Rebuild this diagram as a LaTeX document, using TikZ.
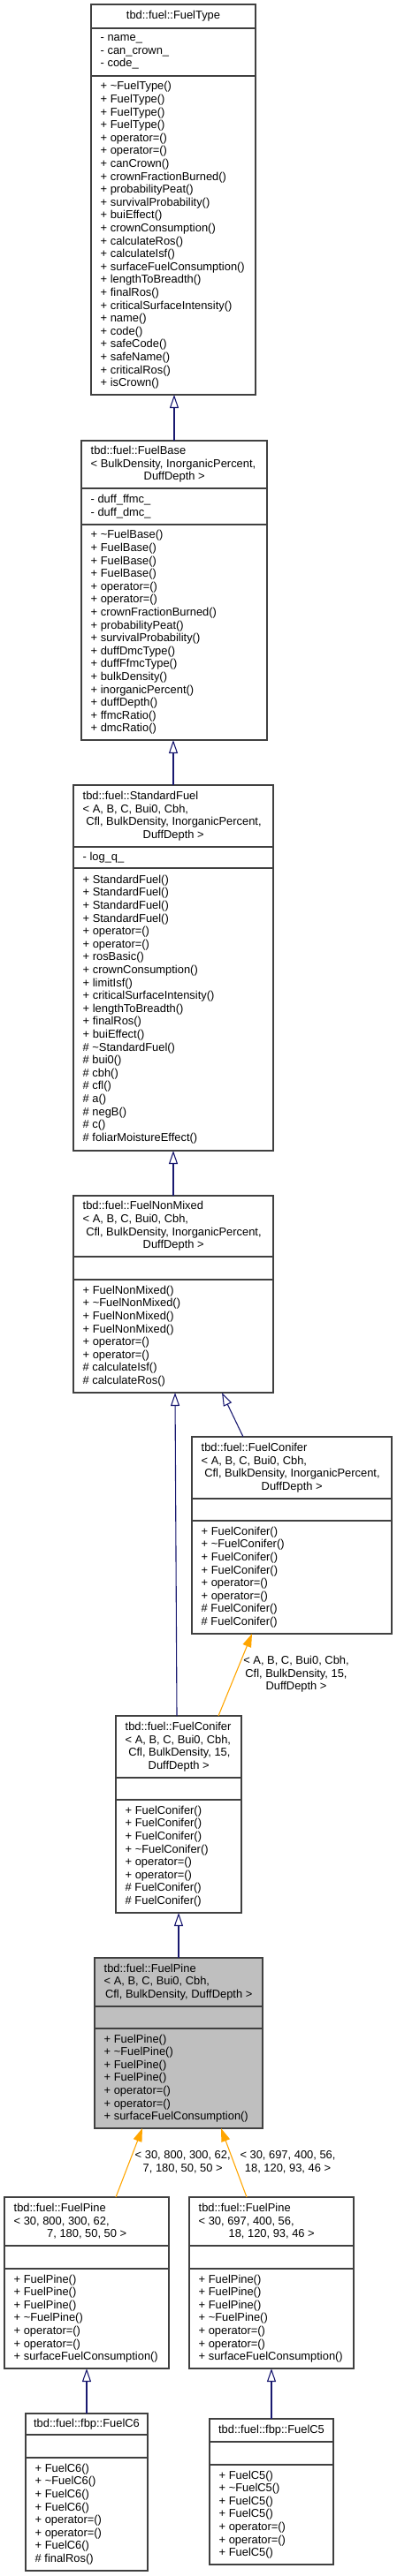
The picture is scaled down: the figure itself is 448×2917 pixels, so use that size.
\documentclass[tikz,border=0pt]{standalone}
\usepackage{fontspec}
\setmainfont{Liberation Sans}
\usetikzlibrary{arrows.meta}

\newcommand{\umlfont}{\fontsize{12.9}{14.6}\selectfont}
\newcommand{\lastrow}[2]{\makebox[#1pt][c]{#2}}

\begin{document}
\begin{tikzpicture}[x=1pt, y=-1pt, line join=miter,
  umlframe/.style={draw=boxline, line width=1.1pt, fill=white, anchor=north west, inner sep=0pt, outer sep=0pt},
  umlfocus/.style={umlframe, fill=focus},
  umlsep/.style={draw=boxline, line width=1.1pt},
  umltext/.style={font=\umlfont, inner sep=0pt, anchor=west, align=left},
  umltitle/.style={font=\umlfont, inner sep=0pt},
  umllabel/.style={font=\umlfont, inner sep=0pt, align=center},
  inherit/.style={draw=edgeblue, line width=1.1pt, -{Triangle[open, length=15pt, width=10pt]}},
  instance/.style={draw=edgeorange, line width=1.1pt, -{Triangle[length=15pt, width=10pt]}}]
  \definecolor{boxline}{RGB}{64,64,64}
  \definecolor{focus}{RGB}{191,191,191}
  \definecolor{edgeblue}{RGB}{25,25,112}
  \definecolor{edgeorange}{RGB}{255,165,0}

  % style, name, left, top, right, bottom, separator 1, separator 2
  \newcommand{\umlbox}[8]{%
    \node[#1, minimum width=#5-#3, minimum height=#6-#4] (#2) at (#3,#4) {};
    \draw[umlsep] (#3,#7) -- (#5,#7);
    \draw[umlsep] (#3,#8) -- (#5,#8);
  }

  \useasboundingbox (0,0) rectangle (448,2917);

  % FuelType
  \umlbox{umlframe}{ftype}{103}{5}{289}{447}{32}{86}
  \node[umltitle] (ftype-h) at (196,18.5) {tbd::fuel::FuelType};
  \node[umltext] (ftype-a) at (113.5,59) {- name\_\\- can\_crown\_\\- code\_};
  \node[umltext] (ftype-m) at (113.5,266.5) {+ \textasciitilde FuelType()\\+ FuelType()\\+ FuelType()\\+ FuelType()\\+ operator=()\\+ operator=()\\+ canCrown()\\+ crownFractionBurned()\\+ probabilityPeat()\\+ survivalProbability()\\+ buiEffect()\\+ crownConsumption()\\+ calculateRos()\\+ calculateIsf()\\+ surfaceFuelConsumption()\\+ lengthToBreadth()\\+ finalRos()\\+ criticalSurfaceIntensity()\\+ name()\\+ code()\\+ safeCode()\\+ safeName()\\+ criticalRos()\\+ isCrown()};

  % FuelBase
  \umlbox{umlframe}{fbase}{92}{499}{302}{838}{553}{594}
  \node[umltext] (fbase-h) at (102.5,526) {tbd::fuel::FuelBase\\< BulkDensity, InorganicPercent,\\\lastrow{189}{DuffDepth >}};
  \node[umltext] (fbase-a) at (102.5,573.5) {- duff\_ffmc\_\\- duff\_dmc\_};
  \node[umltext] (fbase-m) at (102.5,716) {+ \textasciitilde FuelBase()\\+ FuelBase()\\+ FuelBase()\\+ FuelBase()\\+ operator=()\\+ operator=()\\+ crownFractionBurned()\\+ probabilityPeat()\\+ survivalProbability()\\+ duffDmcType()\\+ duffFfmcType()\\+ bulkDensity()\\+ inorganicPercent()\\+ duffDepth()\\+ ffmcRatio()\\+ dmcRatio()};

  % StandardFuel
  \umlbox{umlframe}{stdfuel}{83}{889}{309}{1303}{959}{983}
  \node[umltext] (stdfuel-h) at (93.5,924) {tbd::fuel::StandardFuel\\< A, B, C, Bui0, Cbh,\\\ Cfl, BulkDensity, InorganicPercent,\\\lastrow{205}{DuffDepth >}};
  \node[umltext] (stdfuel-a) at (93.5,971) {- log\_q\_};
  \node[umltext] (stdfuel-m) at (93.5,1143) {+ StandardFuel()\\+ StandardFuel()\\+ StandardFuel()\\+ StandardFuel()\\+ operator=()\\+ operator=()\\+ rosBasic()\\+ crownConsumption()\\+ limitIsf()\\+ criticalSurfaceIntensity()\\+ lengthToBreadth()\\+ finalRos()\\+ buiEffect()\\\# \textasciitilde StandardFuel()\\\# bui0()\\\# cbh()\\\# cfl()\\\# a()\\\# negB()\\\# c()\\\# foliarMoistureEffect()};

  % FuelNonMixed
  \umlbox{umlframe}{nonmixed}{83}{1354}{309}{1577}{1423}{1449}
  \node[umltext] (nonmixed-h) at (93.5,1388.5) {tbd::fuel::FuelNonMixed\\< A, B, C, Bui0, Cbh,\\\ Cfl, BulkDensity, InorganicPercent,\\\lastrow{205}{DuffDepth >}};
  \node[umltext] (nonmixed-m) at (93.5,1513) {+ FuelNonMixed()\\+ \textasciitilde FuelNonMixed()\\+ FuelNonMixed()\\+ FuelNonMixed()\\+ operator=()\\+ operator=()\\\# calculateIsf()\\\# calculateRos()};

  % FuelConifer, generic
  \umlbox{umlframe}{conifer}{217}{1627}{443}{1850}{1697}{1722}
  \node[umltext] (conifer-h) at (227.5,1662) {tbd::fuel::FuelConifer\\< A, B, C, Bui0, Cbh,\\\ Cfl, BulkDensity, InorganicPercent,\\\lastrow{205}{DuffDepth >}};
  \node[umltext] (conifer-m) at (227.5,1786) {+ FuelConifer()\\+ \textasciitilde FuelConifer()\\+ FuelConifer()\\+ FuelConifer()\\+ operator=()\\+ operator=()\\\# FuelConifer()\\\# FuelConifer()};

  % FuelConifer, inorganic percent 15
  \umlbox{umlframe}{coniferspec}{131}{1943}{273}{2166}{2013}{2038}
  \node[umltext] (coniferspec-h) at (141.5,1978) {tbd::fuel::FuelConifer\\< A, B, C, Bui0, Cbh,\\\ Cfl, BulkDensity, 15,\\\lastrow{121}{DuffDepth >}};
  \node[umltext] (coniferspec-m) at (141.5,2102) {+ FuelConifer()\\+ FuelConifer()\\+ FuelConifer()\\+ \textasciitilde FuelConifer()\\+ operator=()\\+ operator=()\\\# FuelConifer()\\\# FuelConifer()};

  % FuelPine
  \umlbox{umlfocus}{pine}{107}{2217}{297}{2410}{2272}{2297}
  \node[umltext] (pine-h) at (117.5,2244.5) {tbd::fuel::FuelPine\\< A, B, C, Bui0, Cbh,\\\lastrow{169}{Cfl, BulkDensity, DuffDepth >}};
  \node[umltext] (pine-m) at (117.5,2353.5) {+ FuelPine()\\+ \textasciitilde FuelPine()\\+ FuelPine()\\+ FuelPine()\\+ operator=()\\+ operator=()\\+ surfaceFuelConsumption()};

  % FuelPine instances
  \umlbox{umlframe}{pinea}{5}{2488}{191}{2682}{2543}{2569}
  \node[umltext] (pinea-h) at (15.5,2515.5) {tbd::fuel::FuelPine\\< 30, 800, 300, 62,\\\lastrow{165}{7, 180, 50, 50 >}};
  \node[umltext] (pinea-m) at (15.5,2625.5) {+ FuelPine()\\+ FuelPine()\\+ FuelPine()\\+ \textasciitilde FuelPine()\\+ operator=()\\+ operator=()\\+ surfaceFuelConsumption()};

  \umlbox{umlframe}{pineb}{214}{2488}{400}{2682}{2543}{2569}
  \node[umltext] (pineb-h) at (224.5,2515.5) {tbd::fuel::FuelPine\\< 30, 697, 400, 56,\\\lastrow{165}{18, 120, 93, 46 >}};
  \node[umltext] (pineb-m) at (224.5,2625.5) {+ FuelPine()\\+ FuelPine()\\+ FuelPine()\\+ \textasciitilde FuelPine()\\+ operator=()\\+ operator=()\\+ surfaceFuelConsumption()};

  % fbp fuels
  \umlbox{umlframe}{fuelc6}{29}{2733}{167}{2911}{2757}{2783}
  \node[umltitle] (fuelc6-h) at (98,2745) {tbd::fuel::fbp::FuelC6};
  \node[umltext] (fuelc6-m) at (39.5,2847) {+ FuelC6()\\+ \textasciitilde FuelC6()\\+ FuelC6()\\+ FuelC6()\\+ operator=()\\+ operator=()\\+ FuelC6()\\\# finalRos()};

  \umlbox{umlframe}{fuelc5}{237}{2739}{377}{2904}{2765}{2791}
  \node[umltitle] (fuelc5-h) at (307,2752) {tbd::fuel::fbp::FuelC5};
  \node[umltext] (fuelc5-m) at (247.5,2847.5) {+ FuelC5()\\+ \textasciitilde FuelC5()\\+ FuelC5()\\+ FuelC5()\\+ operator=()\\+ operator=()\\+ FuelC5()};

  % edges
  \draw[inherit] (fbase.north) -- (fbase.north |- ftype.south);
  \draw[inherit] (stdfuel.north) -- (stdfuel.north |- fbase.south);
  \draw[inherit] (nonmixed.north) -- (nonmixed.north |- stdfuel.south);
  \draw[inherit] ([xshift=-55pt]conifer.north) -- ([xshift=55pt]nonmixed.south);
  \draw[inherit] ([xshift=-2pt]coniferspec.north) -- ([xshift=2pt]nonmixed.south);
  \draw[instance] ([xshift=45pt]coniferspec.north) -- ([xshift=-45pt]conifer.south);
  \draw[inherit] (pine.north) -- (coniferspec.south);
  \draw[instance] ([xshift=33pt]pinea.north) -- ([xshift=-41pt]pine.south);
  \draw[instance] ([xshift=-28pt]pineb.north) -- ([xshift=48pt]pine.south);
  \draw[inherit] (fuelc6.north) -- (pinea.south);
  \draw[inherit] (fuelc5.north) -- (pineb.south);

  % template arguments
  \node[umllabel] (args15) at (335,1896) {< A, B, C, Bui0, Cbh,\\Cfl, BulkDensity, 15,\\DuffDepth >};
  \node[umllabel] (argsc6) at (206.7,2448) {< 30, 800, 300, 62,\\7, 180, 50, 50 >};
  \node[umllabel] (argsc5) at (325.5,2448) {< 30, 697, 400, 56,\\18, 120, 93, 46 >};
\end{tikzpicture}
\end{document}
